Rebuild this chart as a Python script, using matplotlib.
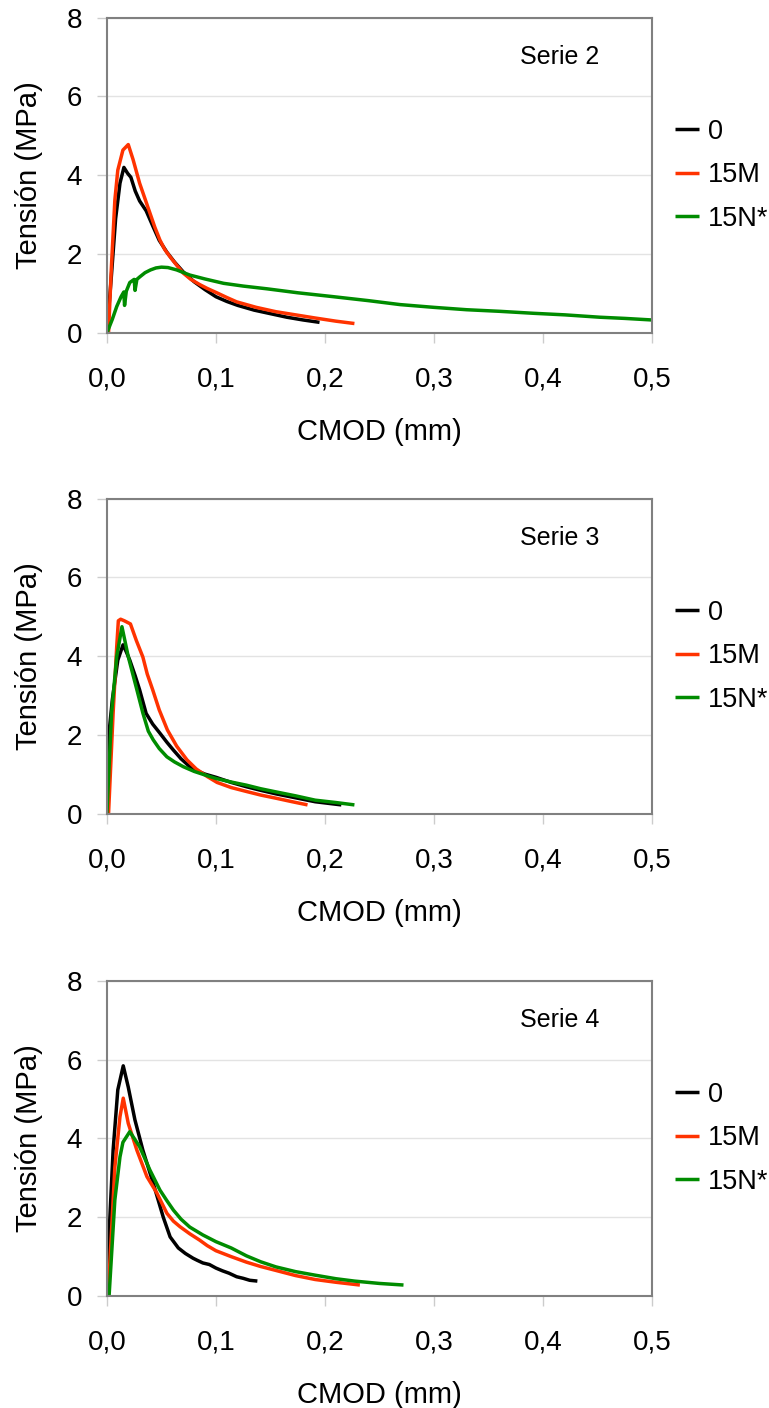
import matplotlib.pyplot as plt

plt.rcParams['font.family'] = ['Liberation Sans', 'DejaVu Sans']

series_names = ['0', '15M', '15N*']
series_colors = ['black', '#FF3300', '#008C00']
panel_titles = ['Serie 2', 'Serie 3', 'Serie 4']
x_ticks = [0.0, 0.1, 0.2, 0.3, 0.4, 0.5]
x_tick_labels = ['0,0', '0,1', '0,2', '0,3', '0,4', '0,5']
y_ticks = [0, 2, 4, 6, 8]

# Serie 2
s2_0_x = [0, 0.004, 0.008, 0.012, 0.0156, 0.019, 0.022, 0.026, 0.030, 0.036, 0.042, 0.048,
          0.055, 0.062, 0.070, 0.080, 0.090, 0.100, 0.110, 0.120, 0.135, 0.150, 0.165, 0.180, 0.195]
s2_0_y = [0, 1.4, 2.9, 3.8, 4.2, 4.05, 3.95, 3.6, 3.35, 3.1, 2.72, 2.35,
          2.05, 1.8, 1.55, 1.3, 1.1, 0.92, 0.80, 0.70, 0.58, 0.49, 0.40, 0.33, 0.27]
s2_15m_x = [0.0015, 0.004, 0.0073, 0.010, 0.0147, 0.0196, 0.024, 0.030, 0.035, 0.0395, 0.044,
            0.0486, 0.053, 0.058, 0.064, 0.070, 0.077, 0.085, 0.092, 0.100, 0.110, 0.119, 0.137,
            0.155, 0.173, 0.191, 0.210, 0.227]
s2_15m_y = [0, 1.6, 3.37, 4.13, 4.64, 4.78, 4.4, 3.8, 3.4, 3.04, 2.68,
            2.36, 2.12, 1.93, 1.72, 1.52, 1.36, 1.23, 1.13, 1.03, 0.90, 0.79, 0.65,
            0.54, 0.46, 0.38, 0.30, 0.24]
s2_15n_x = [0, 0.005, 0.009, 0.013, 0.0155, 0.0162, 0.0178, 0.021, 0.025, 0.0258, 0.0275,
            0.030, 0.035, 0.040, 0.045, 0.050, 0.056, 0.064, 0.076, 0.090, 0.107, 0.125,
            0.147, 0.175, 0.208, 0.240, 0.269, 0.300, 0.330, 0.360, 0.391, 0.420, 0.452, 0.475, 0.500]
s2_15n_y = [0, 0.35, 0.67, 0.92, 1.04, 0.70, 1.06, 1.28, 1.36, 1.08, 1.36,
            1.42, 1.53, 1.6, 1.65, 1.67, 1.66, 1.6, 1.47, 1.37, 1.26, 1.19,
            1.12, 1.02, 0.92, 0.82, 0.72, 0.65, 0.59, 0.55, 0.50, 0.46, 0.40, 0.37, 0.33]

# Serie 3
s3_0_x = [0, 0.001, 0.001, 0.005, 0.010, 0.0148, 0.018, 0.021, 0.026, 0.030, 0.036, 0.042,
          0.0486, 0.055, 0.061, 0.068, 0.076, 0.083, 0.090, 0.100, 0.114, 0.128, 0.141,
          0.155, 0.173, 0.191, 0.215]
s3_0_y = [0, 0.2, 1.8, 2.9, 3.9, 4.29, 4.1, 3.9, 3.5, 3.15, 2.55, 2.28,
          2.05, 1.82, 1.62, 1.4, 1.2, 1.09, 1.01, 0.93, 0.80, 0.69, 0.60,
          0.51, 0.41, 0.31, 0.23]
s3_15m_x = [0.0015, 0.0057, 0.009, 0.0105, 0.0126, 0.016, 0.0216, 0.027, 0.033, 0.037, 0.042,
            0.048, 0.0555, 0.064, 0.0735, 0.082, 0.092, 0.101, 0.114, 0.128, 0.141, 0.155, 0.170, 0.184]
s3_15m_y = [0, 2.55, 4.24, 4.9, 4.94, 4.9, 4.82, 4.4, 3.98, 3.55, 3.15,
            2.64, 2.13, 1.72, 1.37, 1.14, 0.95, 0.80, 0.67, 0.57, 0.48, 0.40, 0.31, 0.23]
s3_15n_x = [0, 0.0043, 0.009, 0.0138, 0.0196, 0.0275, 0.033, 0.038, 0.0425, 0.048, 0.055,
            0.062, 0.070, 0.080, 0.092, 0.100, 0.114, 0.128, 0.141, 0.155, 0.173, 0.191, 0.210, 0.227]
s3_15n_y = [0, 2.56, 3.99, 4.75, 3.99, 3.15, 2.56, 2.1, 1.88, 1.66, 1.45,
            1.32, 1.2, 1.08, 0.97, 0.90, 0.81, 0.73, 0.64, 0.56, 0.46, 0.35, 0.29, 0.23]

# Serie 4
s4_0_x = [0, 0.001, 0.0057, 0.010, 0.015, 0.0196, 0.0257, 0.033, 0.0425, 0.0517, 0.058,
          0.0655, 0.072, 0.079, 0.0826, 0.088, 0.094, 0.100, 0.106, 0.112, 0.119, 0.125, 0.131, 0.138]
s4_0_y = [0, 1.0, 3.7, 5.23, 5.84, 5.3, 4.47, 3.7, 2.86, 2.0, 1.5,
          1.22, 1.08, 0.96, 0.91, 0.84, 0.80, 0.71, 0.64, 0.58, 0.49, 0.45, 0.40, 0.38]
s4_15m_x = [0.001, 0.003, 0.0073, 0.012, 0.015, 0.0196, 0.0275, 0.0367, 0.0459, 0.055, 0.061,
            0.067, 0.076, 0.085, 0.092, 0.100, 0.114, 0.128, 0.141, 0.155, 0.173, 0.191, 0.210, 0.232]
s4_15m_y = [0, 1.0, 3.27, 4.55, 5.02, 4.38, 3.7, 3.03, 2.61, 2.1, 1.9,
            1.76, 1.58, 1.42, 1.28, 1.15, 1.0, 0.86, 0.75, 0.65, 0.52, 0.42, 0.35, 0.28]
s4_15n_x = [0.002, 0.0073, 0.012, 0.0147, 0.021, 0.030, 0.0394, 0.0486, 0.055, 0.061, 0.068,
            0.076, 0.088, 0.100, 0.114, 0.128, 0.141, 0.155, 0.173, 0.191, 0.210, 0.227, 0.250, 0.272]
s4_15n_y = [0, 2.44, 3.53, 3.9, 4.17, 3.79, 3.2, 2.69, 2.42, 2.18, 1.95,
            1.75, 1.55, 1.38, 1.22, 1.02, 0.87, 0.74, 0.62, 0.53, 0.44, 0.38, 0.32, 0.28]

panels = [
    [(s2_0_x, s2_0_y), (s2_15m_x, s2_15m_y), (s2_15n_x, s2_15n_y)],
    [(s3_0_x, s3_0_y), (s3_15m_x, s3_15m_y), (s3_15n_x, s3_15n_y)],
    [(s4_0_x, s4_0_y), (s4_15m_x, s4_15m_y), (s4_15n_x, s4_15n_y)],
]
# posiciones de los ejes (fracción de figura)
bottoms = [0.7635, 0.4219, 0.0795]

fig = plt.figure(figsize=(7.69, 14.08), dpi=100)

for i, panel in enumerate(panels):
    ax = fig.add_axes([0.139, bottoms[i], 0.709, 0.224])
    for (xs, ys), name, col in zip(panel, series_names, series_colors):
        ax.plot(xs, ys, color=col, lw=2.5, label=name,
                solid_joinstyle='round', solid_capstyle='butt')

    ax.set_xlim(0, 0.5)
    ax.set_ylim(0, 8)
    ax.set_xticks(x_ticks)
    ax.set_xticklabels(x_tick_labels)
    ax.set_yticks(y_ticks)
    ax.yaxis.grid(True, color='#E3E3E3', lw=1)
    ax.set_axisbelow(True)
    for sp in ax.spines.values():
        sp.set_color('#808080')
        sp.set_linewidth(1.5)
    ax.tick_params(axis='x', direction='out', length=7, width=1, color='#CCCCCC',
                   labelsize=20, pad=17)
    ax.tick_params(axis='y', direction='out', length=7, width=1, color='#CCCCCC',
                   labelsize=20, pad=11)

    ax.set_xlabel('CMOD (mm)', fontsize=21)
    ax.xaxis.set_label_coords(0.5, -0.27)
    ax.xaxis.label.set_va('top')
    ax.set_ylabel('Tensión (MPa)', fontsize=21)
    ax.yaxis.set_label_coords(-0.118, 0.5)

    ax.text(0.83, 0.875, panel_titles[i], transform=ax.transAxes, fontsize=18,
            ha='center', va='center')

    ax.legend(loc='center left', bbox_to_anchor=(1.042, 0.5), frameon=False,
              fontsize=19.5, handlelength=0.9, handletextpad=0.3, labelspacing=0.65,
              borderpad=0, borderaxespad=0)

fig.savefig('out.png', dpi=100)
